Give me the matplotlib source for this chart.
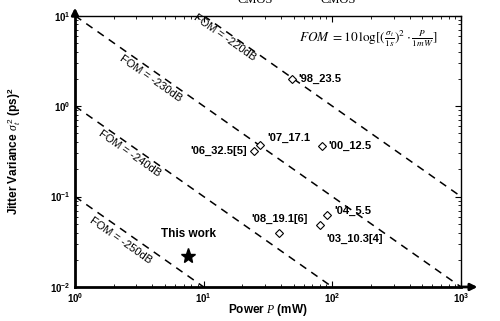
import numpy as np
import matplotlib
matplotlib.use('Agg')
import matplotlib.pyplot as plt

plt.rcParams['font.family'] = ['Liberation Sans', 'DejaVu Sans']
plt.rcParams['mathtext.fontset'] = 'custom'
plt.rcParams['mathtext.rm'] = 'Liberation Sans'
plt.rcParams['mathtext.bf'] = 'Liberation Sans:bold'
plt.rcParams['mathtext.it'] = 'Liberation Serif:italic'

# FOM reference lines (dB) and their drawn P ranges (mW)
fom_levels = [-220, -230, -240, -250]
fom_p_start = [10, 1, 1, 1]
fom_p_end = [1000, 1000, 100, 10]
fom_label_pos = [(14.6, 5.8), (3.85, 2.0), (2.65, 0.30), (2.25, 0.033)]

# published designs: power (mW), jitter variance (ps^2)
names = ["'98_23.5", "'00_12.5", "'07_17.1", "'06_32.5[5]",
         "'08_19.1[6]", "'04_5.5", "'03_10.3[4]"]
power = [49, 83, 27.4, 24.4, 38.7, 91, 80]
jvar = [2.0, 0.36, 0.37, 0.32, 0.040, 0.062, 0.0485]
label_off = [(4, 0), (5, 0), (5, 5), (-5, 0), (0, 10), (5, 3), (5, -10)]
label_ha = ['left', 'left', 'left', 'right', 'center', 'left', 'left']

this_p, this_j = 7.6, 0.0222

fig = plt.figure(figsize=(5.0, 3.21), dpi=100)
ax = fig.add_axes([0.15, 0.106, 0.772, 0.845])
ax.set_xscale('log')
ax.set_yscale('log')
ax.set_xlim(1, 1000)
ax.set_ylim(0.01, 10)

for lev, p0, p1, (lx, ly) in zip(fom_levels, fom_p_start, fom_p_end, fom_label_pos):
    # sigma^2 (ps^2) * P (mW) = 10**(lev/10 + 24)
    k = 10 ** (lev / 10 + 24)
    p = np.array([p0, p1], dtype=float)
    ax.plot(p, k / p, ls=(0, (5, 4)), color='k', lw=1.1)
    ax.text(lx, ly, 'FOM = %ddB' % lev, rotation=-35, ha='center', va='center',
            fontsize=8, rotation_mode='anchor')

ax.plot(power, jvar, 'D', mfc='white', mec='k', ms=4, mew=0.8, ls='none')
for n, x, y, off, ha in zip(names, power, jvar, label_off, label_ha):
    ax.annotate(n, (x, y), xytext=off, textcoords='offset points', ha=ha,
                va='center', fontsize=8, fontweight='bold')

ax.plot([this_p], [this_j], '*', color='k', ms=11)
ax.annotate('This work', (this_p, this_j), xytext=(0, 11), textcoords='offset points',
            ha='center', va='bottom', fontsize=8.5, fontweight='bold')

ax.text(0.94, 0.915, r'$FOM\ =10\,\log[(\frac{\sigma_t}{1s})^2\cdot\frac{P}{1mW}]$',
        transform=ax.transAxes, ha='right', va='center', fontsize=9.5,
        math_fontfamily='stix')

for s in ['left', 'bottom']:
    ax.spines[s].set_linewidth(2)
for s in ['top', 'right']:
    ax.spines[s].set_linewidth(1)
ax.tick_params(which='both', direction='in', top=True, right=True)
ax.tick_params(which='major', length=4, labelsize=7, pad=3)
ax.tick_params(which='minor', length=2)
ax.set_xticks([1, 10, 100, 1000])
ax.set_xticklabels([r'$\mathbf{10^{%d}}$' % i for i in range(4)])
ax.set_yticks([0.01, 0.1, 1, 10])
ax.set_yticklabels([r'$\mathbf{10^{%d}}$' % i for i in range(-2, 2)])

ax.set_xlabel(r'Power $P$ (mW)', fontsize=8.5, fontweight='bold')
ax.xaxis.set_label_coords(0.5, -0.055)
ax.set_ylabel(r'Jitter Variance $\sigma_t^{\,2}$ (ps)$^\mathbf{2}$', fontsize=8.5,
              fontweight='bold')
ax.yaxis.set_label_coords(-0.135, 0.5)

# axis arrows
ax.annotate('', xy=(0, 1.04), xytext=(0, 0.99), xycoords='axes fraction',
            arrowprops=dict(arrowstyle='-|>', color='k', lw=2, mutation_scale=10))
ax.annotate('', xy=(1.05, 0), xytext=(0.99, 0), xycoords='axes fraction',
            arrowprops=dict(arrowstyle='-|>', color='k', lw=2, mutation_scale=10))

# cut-off caption text at top
fig.text(0.51, 1.0, 'CMOS', family='Liberation Serif', fontsize=9, ha='center', va='center')
fig.text(0.676, 1.0, 'CMOS', family='Liberation Serif', fontsize=9, ha='center', va='center')

fig.savefig('out.png', dpi=100)
